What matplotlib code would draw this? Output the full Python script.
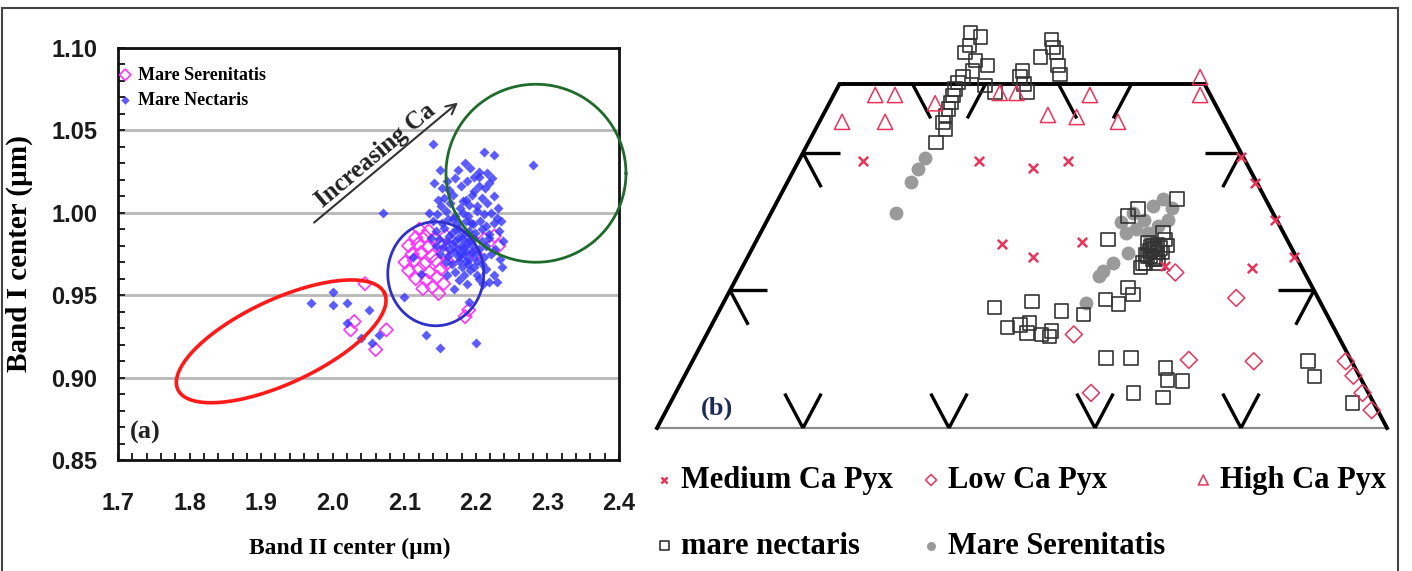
import numpy as np
import matplotlib.pyplot as plt
from matplotlib.ticker import MultipleLocator

# ---- panel (a): band centres ----
nectaris = [
    (1.97, 0.945), (2.00, 0.952), (2.00, 0.944), (2.02, 0.945), (2.02, 0.933), (2.05, 0.941),
    (2.04, 0.924), (2.055, 0.921), (2.065, 0.926), (2.07, 1.000), (2.10, 0.949), (2.13, 0.926),
    (2.15, 0.918), (2.20, 0.921), (2.14, 1.042), (2.15, 1.026), (2.142, 1.018), (2.28, 1.029),
    (2.212, 1.037), (2.225, 1.035), (2.192, 1.027), (2.205, 1.025), (2.23, 0.958), (2.237, 0.967),
    (2.17, 0.954), (2.19, 0.946), (2.123, 0.963), (2.112, 0.973), (2.16, 0.962), (2.21, 0.957),
    (2.225, 0.962),
    (2.171, 1.021), (2.188, 1.019), (2.204, 1.022), (2.219, 1.018), (2.163, 1.014), (2.179, 1.016),
    (2.197, 1.013), (2.213, 1.015), (2.156, 1.009), (2.168, 1.011), (2.186, 1.008), (2.194, 1.011),
    (2.208, 1.009), (2.226, 1.010), (2.151, 1.004), (2.164, 1.006), (2.178, 1.003), (2.191, 1.005),
    (2.202, 1.004), (2.216, 1.006), (2.231, 1.003), (2.146, 0.999), (2.158, 1.001), (2.171, 0.998),
    (2.182, 1.000), (2.189, 0.998), (2.201, 1.001), (2.211, 0.999), (2.221, 1.000), (2.229, 0.997),
    (2.152, 0.994), (2.161, 0.996), (2.174, 0.993), (2.186, 0.995), (2.196, 0.993), (2.206, 0.995),
    (2.214, 0.992), (2.226, 0.994), (2.144, 0.989), (2.156, 0.991), (2.166, 0.988), (2.176, 0.990),
    (2.184, 0.987), (2.191, 0.989), (2.199, 0.988), (2.209, 0.990), (2.219, 0.987), (2.232, 0.989),
    (2.149, 0.984), (2.162, 0.986), (2.171, 0.983), (2.181, 0.985), (2.188, 0.982), (2.198, 0.985),
    (2.208, 0.983), (2.218, 0.985), (2.154, 0.979), (2.166, 0.981), (2.174, 0.978), (2.179, 0.980),
    (2.186, 0.977), (2.194, 0.980), (2.204, 0.978), (2.214, 0.980), (2.227, 0.978), (2.161, 0.974),
    (2.169, 0.976), (2.177, 0.973), (2.184, 0.975), (2.191, 0.972), (2.199, 0.975), (2.211, 0.973),
    (2.221, 0.975), (2.166, 0.969), (2.176, 0.971), (2.181, 0.967), (2.189, 0.969), (2.197, 0.967),
    (2.208, 0.969), (2.171, 0.964), (2.183, 0.962), (2.192, 0.965), (2.201, 0.962), (2.214, 0.966),
    (2.176, 0.959), (2.188, 0.957), (2.204, 0.960), (2.219, 0.958),
    (2.175, 0.985), (2.183, 0.979), (2.190, 0.983), (2.178, 0.975), (2.186, 0.971), (2.195, 0.976),
    (2.172, 0.990), (2.193, 0.994), (2.168, 0.996), (2.182, 1.007), (2.205, 1.016), (2.215, 1.024),
    (2.158, 0.983), (2.163, 0.978), (2.201, 0.971),
    (2.152, 1.015), (2.147, 1.008), (2.160, 1.019), (2.175, 1.026), (2.185, 1.030), (2.198, 1.022),
    (2.222, 1.021), (2.235, 0.995), (2.238, 0.983), (2.234, 0.972), (2.158, 0.970), (2.150, 0.975),
    (2.144, 0.980), (2.137, 0.985), (2.140, 0.995), (2.135, 1.000),
]
serenitatis = [
    (2.03, 0.934), (2.025, 0.929), (2.06, 0.917), (2.075, 0.929), (2.045, 0.957), (2.19, 0.941),
    (2.185, 0.937), (2.232, 0.980), (2.226, 0.986), (2.148, 0.951), (2.20, 0.975), (2.212, 0.984),
    (2.121, 0.990), (2.134, 0.989), (2.116, 0.985), (2.129, 0.986), (2.144, 0.984), (2.158, 0.986),
    (2.106, 0.980), (2.119, 0.981), (2.133, 0.979), (2.149, 0.981), (2.164, 0.979), (2.111, 0.975),
    (2.124, 0.976), (2.139, 0.974), (2.154, 0.976), (2.171, 0.974), (2.101, 0.970), (2.114, 0.971),
    (2.128, 0.969), (2.144, 0.971), (2.159, 0.969), (2.106, 0.965), (2.121, 0.966), (2.135, 0.964),
    (2.151, 0.966), (2.116, 0.960), (2.131, 0.959), (2.146, 0.961), (2.139, 0.955), (2.126, 0.954),
    (2.155, 0.957),
]
# ellipse outlines: centre (data), width/height in px, angle, colour, line width
rings = [
    ((1.928, 0.922), 228, 84, 25, '#ff1a1a', 2.6),
    ((2.144, 0.963), 96, 104, 0, '#3030c8', 2.0),
    ((2.284, 1.024), 180, 178, 0, '#1e6b2a', 2.0),
]

# ---- panel (b): pyroxene quadrilateral, (Wo, Fs) in mol% ----
medium_wo = [38.8, 38.8, 37.8, 38.8, 26.7, 24.9, 27.0, 23.5, 23.3, 39.4, 35.6, 30.2, 24.9]
medium_fs = [8.8, 24.7, 32.6, 36.9, 33.9, 39.0, 44.7, 57.9, 69.8, 60.3, 64.1, 69.5, 74.8]
low_wo = [22.6, 18.9, 13.6, 9.9, 9.7, 5.1, 9.7, 7.6, 5.1, 2.6]
low_fs = [59.7, 69.9, 50.3, 67.9, 76.9, 56.9, 89.5, 91.6, 94.1, 96.6]
high_wo = [44.5, 48.4, 48.4, 44.5, 47.2, 48.7, 48.7, 45.5, 45.2, 48.4, 44.5, 51.0, 48.4]
high_fs = [3.1, 5.7, 8.4, 9.0, 14.5, 22.6, 24.9, 30.8, 34.9, 35.1, 40.9, 48.9, 50.2]
nect_wo = [57.5, 56.8, 55.6, 54.6, 53.4, 52.7, 51.9, 51.0, 50.2, 49.3, 48.3, 47.3, 46.4, 45.4, 44.4,
           43.4, 41.5, 51.9, 51.0, 50.0, 48.8, 48.8, 49.8, 56.5, 55.3, 54.6, 53.9, 52.7, 51.4,
           33.3, 30.8, 31.8, 27.4, 28.4, 26.5, 26.0, 25.0, 25.5, 24.0, 24.8, 23.3, 20.4, 19.4, 18.7, 18.0,
           17.5, 18.4, 17.0, 16.5, 14.6, 15.0, 15.3, 13.8, 13.6, 13.3, 14.1,
           10.2, 10.2, 8.7, 7.0, 6.8, 5.1, 4.4, 9.7, 7.5, 3.6,
           26.9, 26.5, 26.7, 25.7, 25.5, 26.2, 25.2, 25.5, 24.5, 24.0, 24.0, 27.4,
           26.0, 25.0, 26.4, 24.6]
nect_fs = [14.2, 15.9, 15.0, 14.9, 16.9, 18.9, 17.3, 16.4, 16.1, 16.2, 16.4, 16.6, 16.7, 16.8, 17.0,
           17.8, 17.5, 24.1, 24.2, 25.3, 26.3, 21.9, 20.0, 25.8, 26.6, 27.4, 25.6, 28.6, 29.5,
           54.6, 49.1, 50.0, 48.1, 55.1, 56.7, 54.9, 54.7, 55.8, 54.9, 55.8, 54.6, 54.3, 55.5, 52.1, 54.2,
           37.5, 42.2, 46.9, 50.2, 40.7, 42.2, 43.4, 43.8, 45.9, 47.1, 47.0,
           56.4, 59.8, 65.3, 66.4, 68.6, 62.7, 67.1, 84.3, 86.3, 93.5,
           53.8, 54.7, 55.2, 54.7, 55.5, 55.8, 54.3, 56.5, 55.7, 54.6, 56.6, 55.9,
           55.2, 55.1, 54.4, 56.0]
ser_wo = [31.3, 35.7, 37.6, 39.2, 31.3, 30.3, 32.3, 33.3, 32.0, 29.4, 28.4, 28.9, 28.4, 29.9,
          25.5, 24.0, 22.8, 22.1, 18.2, 30.3]
ser_fs = [17.1, 17.0, 17.0, 17.1, 49.6, 51.5, 51.8, 52.6, 54.6, 53.9, 53.0, 51.1, 50.0, 48.6,
          51.8, 50.5, 49.7, 49.5, 49.7, 54.8]

W, H = 1412, 571
serif = ['Liberation Serif', 'DejaVu Serif']
sans = ['Liberation Sans', 'DejaVu Sans']
fig = plt.figure(figsize=(W / 100, H / 100), dpi=100)

# ================= panel (a) =================
ax = fig.add_axes([118 / W, 1 - 460 / H, 501 / W, 412 / H])
nx, ny = zip(*nectaris)
sx, sy = zip(*serenitatis)
ax.scatter(sx, sy, marker='D', s=46, facecolors='none', edgecolors='#ff33ff', linewidths=1.2,
           label='Mare Serenitatis', zorder=3)
ax.scatter(nx, ny, marker='D', s=26, color='#3535ff', alpha=0.8, linewidths=0,
           label='Mare Nectaris', zorder=4)

ax.set_xlim(1.7, 2.4)
ax.set_ylim(0.85, 1.10)
ax.xaxis.set_major_locator(MultipleLocator(0.1))
ax.xaxis.set_minor_locator(MultipleLocator(0.02))
ax.yaxis.set_major_locator(MultipleLocator(0.05))
ax.yaxis.set_minor_locator(MultipleLocator(0.01))
ax.xaxis.set_major_formatter(plt.FormatStrFormatter('%.1f'))
ax.yaxis.set_major_formatter(plt.FormatStrFormatter('%.2f'))
ax.tick_params(which='both', direction='in', length=5, width=1.4, color='#222')
ax.tick_params(axis='y', which='major', pad=15)
ax.tick_params(axis='x', which='major', pad=23)
for lab in ax.get_xticklabels() + ax.get_yticklabels():
    lab.set_fontfamily(sans)
    lab.set_fontweight('bold')
    lab.set_fontsize(17)
    lab.set_color('#1a1a1a')
ax.yaxis.grid(True, color='#b8b8b8', lw=2)
ax.set_axisbelow(True)
for sp in ax.spines.values():
    sp.set_linewidth(2)
    sp.set_color('#111')

ax.set_xlabel('Band II center (µm)', family=serif, weight='bold', fontsize=17)
ax.xaxis.set_label_coords(0.463, -0.19)
ax.set_ylabel('Band I center (µm)', family=serif, weight='bold', fontsize=21)
ax.yaxis.set_label_coords(-0.17, 0.5)

pos = ax.get_position()
px_x = pos.width * W / 0.7
px_y = pos.height * H / 0.25
t = np.linspace(0, 2 * np.pi, 300)
for (cx, cy), w, h, ang, col, lw in rings:
    a = np.deg2rad(ang)
    u, v = w / 2 * np.cos(t), h / 2 * np.sin(t)
    ax.plot(cx + (u * np.cos(a) - v * np.sin(a)) / px_x,
            cy + (u * np.sin(a) + v * np.cos(a)) / px_y,
            color=col, lw=lw, clip_on=False, zorder=5)

ax.annotate('', xy=(2.178, 1.068), xytext=(1.971, 0.993),
            arrowprops=dict(arrowstyle='->', color='#333', lw=1.5, mutation_scale=18))
ax.text(2.0605, 1.0351, 'Increasing Ca', rotation=40, rotation_mode='anchor',
        ha='center', va='center', family=serif, weight='bold', fontsize=18, color='#222')
ax.text(0.054, 0.068, '(a)', transform=ax.transAxes, ha='center', va='center',
        family=serif, weight='bold', fontsize=19, color='#222')

ax.legend(loc='upper left', bbox_to_anchor=(0.0, 0.955), frameon=False, borderpad=0,
          borderaxespad=0, handlelength=0.8, handletextpad=0.3, labelspacing=0.45,
          prop=dict(family=serif, weight='bold', size=13), markerscale=0.85)

# ================= panel (b) =================
bx = fig.add_axes([657 / W, 1 - 428 / H, 730 / W, 344 / H])
bx.set_xlim(0, 100)
bx.set_ylim(0, 50)
bx.axis('off')


def tern(wo, fs):
    wo = np.asarray(wo, float)
    fs = np.asarray(fs, float)
    return fs + wo / 2, wo


# outline
bx.plot([0, 100], [0, 0], color='#8a8a8a', lw=1.6, clip_on=False)
ex, ey = tern([0, 50, 50, 0], [0, 0, 50, 100])
bx.plot(ex, ey, color='black', lw=2.8, clip_on=False, solid_joinstyle='miter')

# tick marks: short iso-lines (5 mol%) at the edges
L = 5
ticks = []
for f in (20, 40, 60, 80):             # base
    ticks.append(((0, f), (L, f)))
    ticks.append(((0, f), (L, f - L)))
for w in (20, 40):                     # left / right sides
    ticks.append(((w, 0), (w, L)))
    ticks.append(((w, 0), (w - L, L)))
    ticks.append(((w, 100 - w), (w, 100 - w - L)))
    ticks.append(((w, 100 - w), (w - L, 100 - w)))
for f in (10, 30):                     # top, constant En
    ticks.append(((50, f), (50 - L, f + L)))
for f in (20, 40):                     # top, constant Fs
    ticks.append(((50, f), (50 - L, f)))
for (w0, f0), (w1, f1) in ticks:
    tx, ty = tern([w0, w1], [f0, f1])
    bx.plot(tx, ty, color='black', lw=2.4, clip_on=False, solid_capstyle='butt')

red = '#e8345a'
h_ser = bx.scatter(*tern(ser_wo, ser_fs), s=100, color='#9a9a9a', linewidths=0,
                   label='Mare Serenitatis', zorder=3, clip_on=False)
h_nec = bx.scatter(*tern(nect_wo, nect_fs), marker='s', s=95, facecolors='none',
                   edgecolors='#333', linewidths=1.2, label='mare nectaris', zorder=4, clip_on=False)
h_med = bx.scatter(*tern(medium_wo, medium_fs), marker='x', s=45, color=red, linewidths=1.8,
                   label='Medium Ca Pyx', zorder=5, clip_on=False)
h_low = bx.scatter(*tern(low_wo, low_fs), marker='D', s=75, facecolors='none', edgecolors=red,
                   linewidths=1.1, label='Low Ca Pyx', zorder=5, clip_on=False)
h_high = bx.scatter(*tern(high_wo, high_fs), marker='^', s=120, facecolors='none', edgecolors=red,
                    linewidths=1.1, label='High Ca Pyx', zorder=5, clip_on=False)
bx.text(8.2, 2.9, '(b)', ha='center', va='center', family=serif, weight='bold',
        fontsize=19, color='#1c2a5a')

fig.legend([h_med, h_nec, h_low, h_ser, h_high],
           ['Medium Ca Pyx', 'mare nectaris', 'Low Ca Pyx', 'Mare Serenitatis', 'High Ca Pyx'],
           ncol=3, loc='upper left', bbox_to_anchor=(655 / W, 1 - 466 / H), frameon=False,
           borderpad=0, borderaxespad=0, handlelength=0.6, handletextpad=0.25,
           columnspacing=0.95, labelspacing=1.2, markerscale=0.65,
           prop=dict(family=serif, weight='bold', size=22))

# outer frame
fig.add_artist(plt.Rectangle((2 / W, -0.02), 1396 / W, 1.02 - 8 / H, transform=fig.transFigure,
                             fill=False, ec='#444', lw=1.5))

fig.savefig('out.png', dpi=100)
